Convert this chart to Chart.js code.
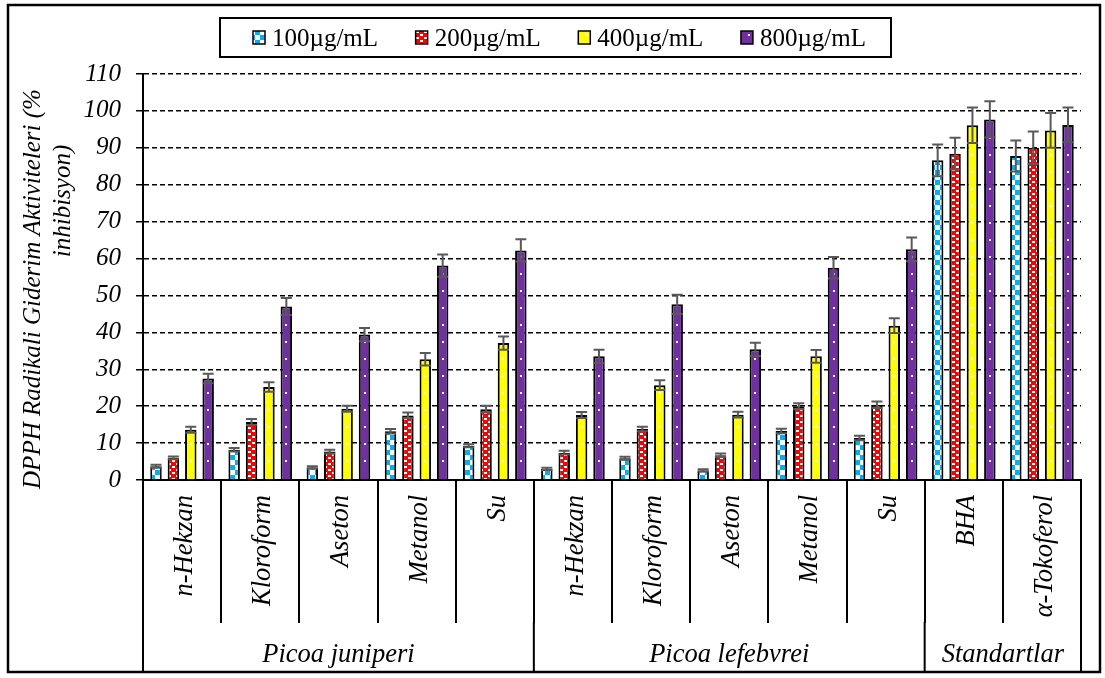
<!DOCTYPE html>
<html>
<head>
<meta charset="utf-8">
<script src="https://cdn.jsdelivr.net/npm/chart.js@4/dist/chart.umd.min.js"></script>
<style>
  html, body { margin: 0; padding: 0; background: #ffffff; }
  canvas { display: block; }
</style>
</head>
<body>
<canvas id="chart" width="1105" height="678"></canvas>
<script>
// Extracts and solvents (first row of the category axis)
const categories = ['n-Hekzan', 'Kloroform', 'Aseton', 'Metanol', 'Su',
                    'n-Hekzan', 'Kloroform', 'Aseton', 'Metanol', 'Su',
                    'BHA', 'α-Tokoferol'];
// Second row: species / standards and how many categories each spans
const groupNames = ['Picoa juniperi', 'Picoa lefebvrei', 'Standartlar'];
const groupSizes = [5, 5, 2];

const seriesNames = ['100µg/mL', '200µg/mL', '400µg/mL', '800µg/mL'];
const yTickValues = [0, 10, 20, 30, 40, 50, 60, 70, 80, 90, 100, 110];
const yTitleLines = ['DPPH Radikali Giderim Aktiviteleri (%', 'inhibisyon)'];

// % inhibition (mean) per concentration
const values100 = [3.7, 8.2, 3.4, 13.2, 9.3, 3.0, 5.9, 2.6, 13.3, 11.4, 86.6, 87.8];
const values200 = [6.0, 15.7, 7.7, 17.5, 19.2, 7.4, 13.8, 6.7, 20.0, 20.4, 88.4, 90.0];
const values400 = [13.6, 25.2, 19.3, 32.7, 37.1, 17.6, 25.7, 17.7, 33.5, 41.8, 96.1, 94.7];
const values800 = [27.5, 47.0, 39.4, 58.1, 62.2, 33.5, 47.6, 35.4, 57.5, 62.5, 97.7, 96.2];

// standard deviations
const errors100 = [0.4, 0.5, 0.3, 0.6, 0.4, 0.3, 0.4, 0.3, 0.6, 0.6, 4.3, 4.2];
const errors200 = [0.4, 0.8, 0.5, 0.8, 0.9, 0.5, 0.6, 0.5, 0.8, 0.9, 4.3, 4.4];
const errors400 = [0.8, 1.3, 0.8, 1.7, 1.8, 0.8, 1.3, 0.8, 1.7, 2.0, 4.8, 4.7];
const errors800 = [1.3, 2.3, 1.8, 3.0, 3.0, 1.8, 2.6, 1.8, 2.9, 3.2, 4.9, 4.7];

const SERIF = "'Liberation Serif', 'Times New Roman', serif";
const canvas = document.getElementById('chart');
const mainCtx = canvas.getContext('2d');

function makeTile(w, h, bg, paint) {
  const c = document.createElement('canvas');
  c.width = w; c.height = h;
  const g = c.getContext('2d');
  g.fillStyle = bg; g.fillRect(0, 0, w, h);
  g.fillStyle = '#ffffff';
  paint(g);
  return mainCtx.createPattern(c, 'repeat');
}
// checkerboard, blue/white
const fill100 = makeTile(10, 10, '#00B0F0', g => { g.fillRect(0, 0, 5, 5); g.fillRect(5, 5, 5, 5); });
// red with small white dashes
const fill200 = makeTile(8, 6, '#FF0000', g => { g.fillRect(0, 1, 3, 2); g.fillRect(4, 4, 3, 2); });
const fill400 = '#FFFF00';
const fill800 = '#7030A0';

const seriesValues = [values100, values200, values400, values800];
const seriesErrors = [errors100, errors200, errors400, errors800];
const seriesFills = [fill100, fill200, fill400, fill800];
const dottedSeries = [2, 3];

const decorations = {
  id: 'decorations',
  afterDatasetsDraw(chart) {
    const ctx = chart.ctx;
    const y = chart.scales.y;
    ctx.save();
    // white dot column inside the 400 and 800 bars
    ctx.fillStyle = '#ffffff';
    dottedSeries.forEach(di => {
      chart.getDatasetMeta(di).data.forEach(bar => {
        const top = Math.min(bar.y, bar.base) + 3;
        const bottom = Math.max(bar.y, bar.base) - 3;
        let yy = 1 + 17 * Math.ceil((top - 1) / 17);
        for (; yy < bottom; yy += 17) ctx.fillRect(Math.round(bar.x) - 1, yy, 2, 2);
      });
    });
    // error bars (± SD)
    ctx.strokeStyle = '#595959';
    ctx.lineWidth = 2;
    seriesValues.forEach((vals, di) => {
      const errs = seriesErrors[di];
      chart.getDatasetMeta(di).data.forEach((bar, i) => {
        const yHi = y.getPixelForValue(vals[i] + errs[i]);
        const yLo = y.getPixelForValue(vals[i] - errs[i]);
        const x = bar.x, hw = 5.5;
        ctx.beginPath();
        ctx.moveTo(x, yHi); ctx.lineTo(x, yLo);
        ctx.moveTo(x - hw, yHi); ctx.lineTo(x + hw, yHi);
        ctx.moveTo(x - hw, yLo); ctx.lineTo(x + hw, yLo);
        ctx.stroke();
      });
    });
    ctx.restore();
  },
  afterDraw(chart) {
    const ctx = chart.ctx;
    const xs = chart.scales.x;
    const area = chart.chartArea;
    const catW = xs.getPixelForValue(1) - xs.getPixelForValue(0);
    const rowBottom = area.bottom + xs.options.grid.tickLength;
    ctx.save();
    ctx.fillStyle = '#000000';

    // category labels, rotated, reading upwards
    ctx.font = 'italic 26.5px ' + SERIF;
    ctx.textAlign = 'right';
    ctx.textBaseline = 'middle';
    categories.forEach((label, i) => {
      ctx.save();
      ctx.translate(xs.getPixelForValue(i) + 3, area.bottom + 15);
      ctx.rotate(-Math.PI / 2);
      ctx.fillText(label, 0, 0);
      ctx.restore();
    });

    // group separators and group labels
    ctx.strokeStyle = '#000000';
    ctx.lineWidth = 2;
    ctx.font = 'italic 26.5px ' + SERIF;
    ctx.textAlign = 'center';
    ctx.textBaseline = 'alphabetic';
    let start = 0;
    const edges = [xs.getPixelForValue(0) - catW / 2];
    groupSizes.forEach((n, gi) => {
      const x0 = xs.getPixelForValue(start) - catW / 2;
      const x1 = xs.getPixelForValue(start + n - 1) + catW / 2;
      edges.push(x1);
      ctx.fillText(groupNames[gi], (x0 + x1) / 2, 662);
      start += n;
    });
    ctx.beginPath();
    edges.forEach(ex => { ctx.moveTo(ex, rowBottom - 1); ctx.lineTo(ex, 671); });
    ctx.stroke();

    // value axis title
    ctx.font = 'italic 25px ' + SERIF;
    ctx.textAlign = 'center';
    ctx.textBaseline = 'alphabetic';
    const titlePos = [[40, 289], [70, 201]];
    yTitleLines.forEach((line, li) => {
      ctx.save();
      ctx.translate(titlePos[li][0], titlePos[li][1]);
      ctx.rotate(-Math.PI / 2);
      ctx.fillText(line, 0, 0);
      ctx.restore();
    });

    // legend
    ctx.font = '25px ' + SERIF;
    ctx.textAlign = 'left';
    ctx.textBaseline = 'middle';
    const box = 12, textGap = 7;
    const widths = seriesNames.map(t => ctx.measureText(t).width);
    const itemsW = widths.reduce((s, w) => s + box + textGap + w, 0);
    const startX = 253, endX = 866;
    const itemGap = (endX - startX - itemsW) / (seriesNames.length - 1);
    let lx = startX;
    const ly = 38;
    seriesNames.forEach((name, i) => {
      ctx.fillStyle = seriesFills[i];
      ctx.fillRect(lx, ly - 7, box, 13);
      if (dottedSeries.includes(i)) {
        ctx.fillStyle = '#ffffff';
        ctx.fillRect(lx + 7, ly - 4, 2, 2);
      }
      ctx.strokeStyle = '#000000';
      ctx.lineWidth = 1.5;
      ctx.strokeRect(lx, ly - 7, box, 13);
      ctx.fillStyle = '#000000';
      ctx.fillText(name, lx + box + textGap, ly + 1);
      lx += box + textGap + widths[i] + itemGap;
    });
    ctx.lineWidth = 2;
    ctx.strokeRect(220, 18, 671, 39);

    // outer frame
    ctx.lineWidth = 2.5;
    ctx.strokeRect(8, 5, 1092, 667);
    ctx.restore();
  }
};

new Chart(canvas, {
  type: 'bar',
  data: {
    labels: categories,
    datasets: seriesNames.map((name, i) => ({
      label: name,
      data: seriesValues[i],
      backgroundColor: seriesFills[i],
      borderColor: '#000000',
      borderWidth: 2,
      categoryPercentage: 0.89,
      barPercentage: 0.66
    }))
  },
  options: {
    responsive: false,
    animation: false,
    devicePixelRatio: 1,
    layout: { padding: { top: 74, right: 24, bottom: 55, left: 0 } },
    plugins: {
      legend: { display: false },
      tooltip: { enabled: false }
    },
    scales: {
      x: {
        offset: true,
        ticks: { display: false },
        grid: {
          offset: true,
          drawOnChartArea: false,
          drawTicks: true,
          tickLength: 143,
          color: '#000000',
          lineWidth: 2
        },
        border: { display: true, color: '#000000', width: 2 }
      },
      y: {
        min: 0,
        max: 110,
        afterBuildTicks(axis) { axis.ticks = yTickValues.map(v => ({ value: v })); },
        afterFit(axis) { axis.width = 143; },
        ticks: {
          padding: 15,
          color: '#000000',
          font: { family: SERIF, size: 25, style: 'italic' }
        },
        grid: {
          color: '#000000',
          lineWidth: 1.5,
          tickLength: 7,
          tickColor: '#000000',
          tickWidth: 1.5,
          tickBorderDash: []
        },
        border: { display: true, color: '#000000', width: 2, dash: [5, 3] }
      }
    }
  },
  plugins: [decorations]
});
</script>
</body>
</html>
